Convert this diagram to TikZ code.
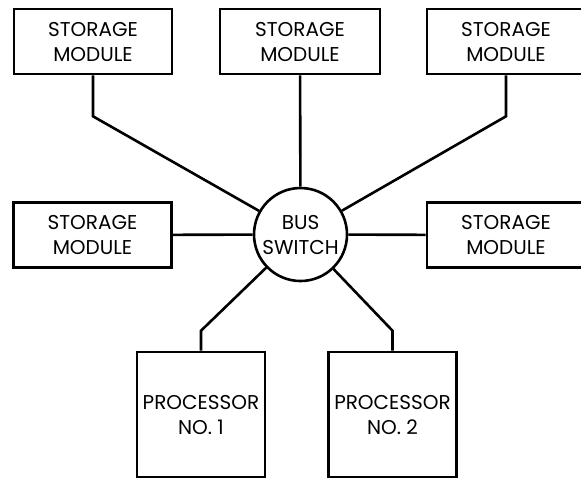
\documentclass[tikz,border=0pt]{standalone}
\usepackage{fontspec}
\setmainfont{Poppins}
\begin{document}
\begin{tikzpicture}[x=0.5pt, y=-0.5pt, line width=1.3pt,
  every node/.style={align=center, font=\fontsize{10}{12.5}\selectfont},
  modbox/.style={draw, rectangle, minimum width=79pt, minimum height=32.5pt, inner sep=0pt},
  procbox/.style={draw, rectangle, minimum width=64pt, minimum height=62.5pt, inner sep=0pt},
  busnode/.style={draw, circle, minimum size=46.5pt, inner sep=0pt}]
  \clip (0, 0) rectangle (581, 479);

  % Bus switch
  \node[busnode] (bus) at (300.5, 234.5) {BUS\\SWITCH};

  % Storage modules, top row
  \node[modbox] (sm1) at (93, 41.5) {STORAGE\\MODULE};
  \node[modbox, minimum width=80pt] (sm2) at (300, 41.5) {STORAGE\\MODULE};
  \node[modbox] (sm3) at (506, 41.5) {STORAGE\\MODULE};

  % Storage modules, middle row
  \node[modbox] (sm4) at (92.5, 235) {STORAGE\\MODULE};
  \node[modbox] (sm5) at (506, 235) {STORAGE\\MODULE};

  % Processors
  \node[procbox] (p1) at (201, 414.5) {PROCESSOR\\NO. 1};
  \node[procbox] (p2) at (392.5, 414.5) {PROCESSOR\\NO. 2};

  % Connections to the switch
  \draw (sm1.south) -- ++(0, 41) -- (bus);
  \draw (sm2) -- (bus);
  \draw (sm3.south) -- ++(0, 41) -- (bus);
  \draw (sm4) -- (bus);
  \draw (sm5) -- (bus);
  \draw (p1.north) -- ++(0, -20) -- (bus);
  \draw (p2.north) -- ++(0, -20) -- (bus);
\end{tikzpicture}
\end{document}
